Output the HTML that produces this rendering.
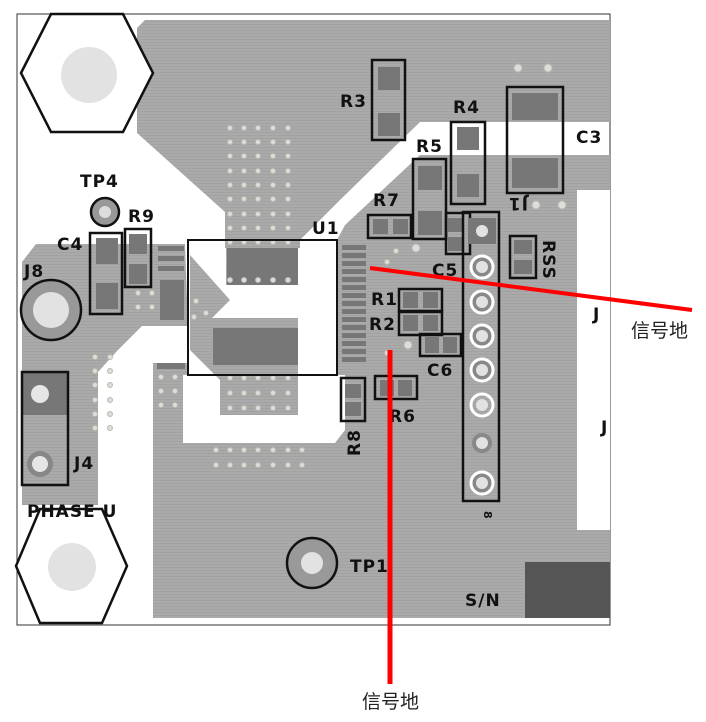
<!DOCTYPE html>
<html><head><meta charset="utf-8"><style>
html,body{margin:0;padding:0;background:#fff;width:706px;height:722px;overflow:hidden}
svg{display:block}
.t{font-family:"DejaVu Sans","Liberation Sans",sans-serif;font-weight:bold;font-size:17px;fill:#111;letter-spacing:1px}
.cn{font-family:"Liberation Sans","Noto Sans CJK SC",sans-serif;font-size:19px;fill:#222}
</style></head><body>
<svg width="706" height="722" viewBox="0 0 706 722" xmlns="http://www.w3.org/2000/svg">
<defs>
<pattern id="g" width="4" height="3" patternUnits="userSpaceOnUse"><rect width="4" height="3" fill="#aaa"/><rect width="4" height="1" fill="#a2a2a2"/></pattern>
</defs>
<!-- board -->
<rect x="17" y="14" width="593" height="611" fill="#fff" stroke="#333" stroke-width="1"/>
<!-- top pour -->
<path d="M145,20 L610,20 L610,122 L420,122 L340,200 L300,240 L300,248 L225,248 L225,212 L137,133 L137,28 Z" fill="url(#g)"/>
<!-- left pour -->
<path d="M36,244 L185,244 L188,326 L142,326 L118,350 L98,372 L98,505 L22,505 L22,262 Z" fill="url(#g)"/>
<!-- main lower pour -->
<path d="M153,363 L188,363 L188,375 L183,375 L183,443 L335,443 L345,430 L345,375 L337,375 L337,240 L345,225 L420,155 L430,155 L610,155 L610,190 L577,190 L577,530 L610,530 L610,618 L153,618 Z" fill="url(#g)"/>
<!-- U1 inner gray pieces -->
<rect x="226" y="230" width="72" height="55" fill="url(#g)"/>
<path d="M190,290 L190,255 L230,300 L212,318 L298,318 L298,415 L220,415 L220,380 L190,350 Z" fill="url(#g)"/>
<rect x="227" y="248" width="71" height="37" fill="#777"/>
<rect x="213" y="328" width="85" height="37" fill="#777"/>
<!-- white board edges right -->
<rect x="578" y="190" width="32" height="340" fill="#fff"/>
<!-- S/N -->
<rect x="525" y="562" width="85" height="56" fill="#555"/>
<!-- vias -->
<g fill="#ddd" stroke="#bba" stroke-width="1">
<g id="vc"><circle cx="230" cy="128" r="2.5"/><circle cx="244" cy="128" r="2.5"/><circle cx="258" cy="128" r="2.5"/><circle cx="273" cy="128" r="2.5"/><circle cx="288" cy="128" r="2.5"/></g>
<use href="#vc" y="14"/><use href="#vc" y="28"/><use href="#vc" y="43"/><use href="#vc" y="57"/><use href="#vc" y="71"/><use href="#vc" y="86"/><use href="#vc" y="100"/><use href="#vc" y="114"/>
<use href="#vc" y="152" x="0"/><use href="#vc" y="250"/><use href="#vc" y="265"/><use href="#vc" y="280"/>
<g id="vd"><circle cx="216" cy="450" r="2.5"/><circle cx="230" cy="450" r="2.5"/><circle cx="244" cy="450" r="2.5"/><circle cx="258" cy="450" r="2.5"/><circle cx="273" cy="450" r="2.5"/><circle cx="288" cy="450" r="2.5"/><circle cx="302" cy="450" r="2.5"/></g>
<use href="#vd" y="15"/>
<g id="ve"><circle cx="95" cy="357" r="2.5"/><circle cx="110" cy="357" r="2.5"/></g>
<use href="#ve" y="14"/><use href="#ve" y="28"/><use href="#ve" y="43"/><use href="#ve" y="57"/><use href="#ve" y="71"/>
<g id="vf"><circle cx="161" cy="377" r="2.5"/><circle cx="175" cy="377" r="2.5"/></g>
<use href="#vf" y="14"/><use href="#vf" y="28"/>
<circle cx="138" cy="293" r="2.5"/><circle cx="152" cy="293" r="2.5"/><circle cx="138" cy="307" r="2.5"/><circle cx="152" cy="307" r="2.5"/>
<circle cx="196" cy="301" r="2.5"/><circle cx="206" cy="313" r="2.5"/><circle cx="194" cy="317" r="2.5"/>
<circle cx="518" cy="68" r="4"/><circle cx="548" cy="68" r="4"/><circle cx="536" cy="205" r="4"/><circle cx="562" cy="205" r="4"/>
<circle cx="396" cy="251" r="2.5"/><circle cx="387" cy="262" r="2.5"/><circle cx="387" cy="353" r="2.5"/><circle cx="408" cy="345" r="4"/><circle cx="416" cy="248" r="4"/>
</g>
<!-- U1 side pins -->
<g fill="#777">
<rect x="342" y="245" width="24" height="5"/><rect x="342" y="253" width="24" height="5"/><rect x="342" y="261" width="24" height="5"/><rect x="342" y="269" width="24" height="5"/><rect x="342" y="277" width="24" height="5"/><rect x="342" y="285" width="24" height="5"/><rect x="342" y="293" width="24" height="5"/><rect x="342" y="301" width="24" height="5"/><rect x="342" y="309" width="24" height="5"/><rect x="342" y="317" width="24" height="5"/><rect x="342" y="325" width="24" height="5"/><rect x="342" y="333" width="24" height="5"/><rect x="342" y="341" width="24" height="5"/><rect x="342" y="349" width="24" height="5"/><rect x="342" y="357" width="24" height="5"/>
<rect x="158" y="246" width="26" height="5"/><rect x="158" y="256" width="26" height="5"/><rect x="158" y="266" width="26" height="5"/>
<rect x="160" y="280" width="24" height="40"/>
<rect x="157" y="363" width="28" height="6"/>
</g>
<!-- U1 box -->
<rect x="188" y="240" width="149" height="135" fill="none" stroke="#111" stroke-width="2"/>
<!-- hexagons -->
<polygon points="21,73 51,14 123,14 153,73 123,132 51,132" fill="#fff" stroke="#111" stroke-width="2.5"/>
<circle cx="89" cy="75" r="28" fill="#e2e2e2"/>
<polygon points="16,566 40,509 102,509 127,566 102,623 40,623" fill="#fff" stroke="#111" stroke-width="2.5"/>
<circle cx="72" cy="567" r="24" fill="#e2e2e2"/>
<!-- TP4 -->
<circle cx="105" cy="212" r="14" fill="#999" stroke="#111" stroke-width="2.5"/><circle cx="105" cy="212" r="6" fill="#ddd"/>
<!-- J8 -->
<circle cx="51" cy="310" r="30" fill="#999" stroke="#111" stroke-width="2.5"/><circle cx="51" cy="310" r="18" fill="#e2e2e2"/>
<!-- TP1 -->
<circle cx="312" cy="563" r="25" fill="#999" stroke="#111" stroke-width="2.5"/><circle cx="312" cy="563" r="11" fill="#e2e2e2"/>
<!-- J4 -->
<rect x="23" y="373" width="44" height="42" fill="#777"/>
<rect x="22" y="372" width="46" height="113" fill="none" stroke="#111" stroke-width="2.5"/>
<circle cx="40" cy="394" r="9" fill="#e6e6e6"/>
<circle cx="40" cy="464" r="13" fill="#888"/><circle cx="40" cy="464" r="8" fill="#e6e6e6"/>
<!-- components -->
<g fill="#777">
<rect x="96" y="238" width="22" height="26"/><rect x="96" y="283" width="22" height="26"/>
<rect x="129" y="234" width="18" height="20"/><rect x="129" y="264" width="18" height="20"/>
<rect x="378" y="67" width="22" height="23"/><rect x="378" y="113" width="22" height="23"/>
<rect x="457" y="127" width="22" height="23"/><rect x="457" y="174" width="22" height="23"/>
<rect x="512" y="93" width="46" height="27"/><rect x="512" y="158" width="46" height="30"/>
<rect x="418" y="166" width="24" height="24"/><rect x="418" y="211" width="24" height="24"/>
<rect x="373" y="219" width="15" height="15"/><rect x="393" y="219" width="15" height="15"/>
<rect x="448" y="218" width="16" height="14"/><rect x="448" y="237" width="16" height="14"/>
<rect x="514" y="240" width="18" height="14"/><rect x="514" y="260" width="18" height="14"/>
<rect x="403" y="292" width="15" height="16"/><rect x="423" y="292" width="15" height="16"/>
<rect x="403" y="315" width="15" height="16"/><rect x="423" y="315" width="15" height="16"/>
<rect x="425" y="337" width="14" height="16"/><rect x="443" y="337" width="14" height="16"/>
<rect x="380" y="380" width="14" height="16"/><rect x="398" y="380" width="14" height="16"/>
<rect x="345" y="384" width="16" height="14"/><rect x="345" y="402" width="16" height="14"/>
</g>
<g fill="none" stroke="#111" stroke-width="2.5">
<rect x="90" y="233" width="32" height="81"/>
<rect x="125" y="229" width="26" height="58"/>
<rect x="372" y="60" width="33" height="80"/>
<rect x="451" y="122" width="34" height="82"/>
<rect x="507" y="87" width="56" height="106"/>
<rect x="413" y="159" width="33" height="80"/>
<rect x="368" y="215" width="43" height="23"/>
<rect x="446" y="213" width="24" height="41"/>
<rect x="510" y="236" width="26" height="42"/>
<rect x="399" y="289" width="43" height="22"/>
<rect x="399" y="312" width="43" height="23"/>
<rect x="420" y="334" width="41" height="22"/>
<rect x="375" y="376" width="42" height="23"/>
<rect x="341" y="378" width="24" height="43"/>
<rect x="463" y="212" width="36" height="289"/>
</g>
<!-- J9 header pins -->
<rect x="468" y="218" width="28" height="26" fill="#777"/>
<circle cx="482" cy="231" r="6" fill="#e2e2e2"/>
<g fill="#888" stroke="#fff" stroke-width="3">
<circle cx="482" cy="267" r="11"/><circle cx="482" cy="302" r="11"/><circle cx="482" cy="336" r="11"/><circle cx="482" cy="370" r="11"/><circle cx="482" cy="483" r="11"/>
</g>
<circle cx="482" cy="443" r="10" fill="#888"/>
<g fill="#e2e2e2"><circle cx="482" cy="267" r="6"/><circle cx="482" cy="302" r="6"/><circle cx="482" cy="336" r="6"/><circle cx="482" cy="370" r="6"/><circle cx="482" cy="405" r="6"/><circle cx="482" cy="443" r="6"/><circle cx="482" cy="483" r="6"/></g>
<circle cx="482" cy="405" r="11" fill="none" stroke="#fff" stroke-width="3"/>
<!-- labels -->
<text class="t" x="340" y="107">R3</text>
<text class="t" x="453" y="113">R4</text>
<text class="t" x="576" y="143">C3</text>
<text class="t" x="416" y="152">R5</text>
<text class="t" x="373" y="206">R7</text>
<text class="t" x="312" y="234">U1</text>
<text class="t" x="80" y="187">TP4</text>
<text class="t" x="128" y="222">R9</text>
<text class="t" x="57" y="250">C4</text>
<text class="t" x="24" y="277">J8</text>
<text class="t" x="432" y="276">C5</text>
<text class="t" x="371" y="305">R1</text>
<text class="t" x="369" y="330">R2</text>
<text class="t" x="427" y="376">C6</text>
<text class="t" x="389" y="422">R6</text>
<text class="t" transform="translate(360,456) rotate(-90)">R8</text>
<text class="t" x="74" y="469">J4</text>
<text class="t" x="27" y="517">PHASE U</text>
<text class="t" x="350" y="572">TP1</text>
<text class="t" x="465" y="606">S/N</text>
<text class="t" transform="translate(528,198) rotate(180)">J1</text>
<text class="t" transform="translate(543,240) rotate(90)">RSS</text>
<text class="t" transform="translate(484,511) rotate(90)" style="font-size:11px">8</text>
<text class="t" x="593" y="320">J</text>
<text class="t" x="601" y="433">J</text>
<!-- red annotations -->
<line x1="370" y1="268" x2="692" y2="310" stroke="#f00" stroke-width="4"/>
<line x1="390" y1="350" x2="390" y2="684" stroke="#f00" stroke-width="5"/>
<text class="cn" x="631" y="337">信号地</text>
<text class="cn" x="362" y="708">信号地</text>
</svg>
</body></html>
